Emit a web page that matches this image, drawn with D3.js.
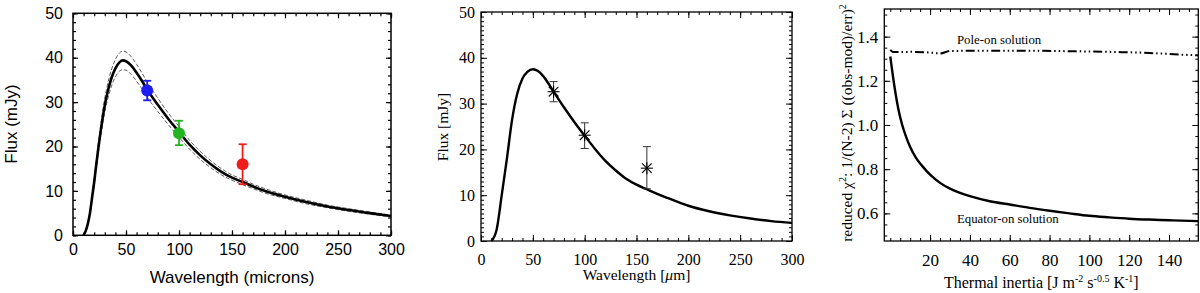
<!DOCTYPE html>
<html>
<head>
<meta charset="utf-8">
<script src="https://cdn.jsdelivr.net/npm/d3@7"></script>
<style>
  body { margin: 0; background: #fff; }
</style>
</head>
<body>
<script>
// ---- left panel: model SED, +/- band, measured fluxes ----
var wl1 = [10, 12, 14, 16, 18, 20, 22, 24, 26, 28, 30, 33, 36, 40, 44, 47, 50, 55, 60, 65, 70, 80, 90, 100, 110, 120, 130, 140, 150, 160, 170, 180, 200, 220, 240, 260, 280, 300];
var flux1 = [0, 1, 2.6, 5, 8.5, 12, 16, 19.8, 23.3, 26.5, 29.3, 32.6, 35.2, 37.6, 39, 39.4, 39.2, 38.2, 36.6, 34.8, 32.8, 29.4, 26.2, 23.3, 20.4, 18, 16, 14.3, 13, 12, 11, 10.1, 8.7, 7.5, 6.5, 5.7, 5, 4.35];
var flux1Hi = [0, 1.1, 2.8, 5.3, 9, 12.7, 16.9, 20.9, 24.6, 28, 30.9, 34.4, 37.1, 39.6, 41.1, 41.5, 41.3, 40.2, 38.5, 36.6, 34.5, 30.9, 27.5, 24.5, 21.4, 18.9, 16.8, 15, 13.6, 12.6, 11.5, 10.6, 9.1, 7.9, 6.8, 6, 5.25, 4.55];
var flux1Lo = [0, 0.9, 2.4, 4.7, 8, 11.4, 15.2, 18.8, 22.1, 25.1, 27.8, 30.9, 33.4, 35.7, 37, 37.3, 37.2, 36.2, 34.7, 33, 31.1, 27.9, 24.9, 22.1, 19.4, 17.1, 15.2, 13.6, 12.4, 11.4, 10.5, 9.6, 8.3, 7.1, 6.2, 5.4, 4.75, 4.15];

var obsWl = [70, 100, 160];
var obsFlux = [32.6, 23.0, 16.0];
var obsLo = [30.4, 20.3, 11.5];
var obsHi = [34.8, 25.8, 20.5];
var obsColor = ["#1e1ef0", "#22b422", "#ee1c1c"];

// ---- middle panel: fitted model + measurements ----
var wl2 = [10, 15, 20, 25, 30, 35, 40, 45, 50, 55, 60, 70, 80, 90, 100, 110, 120, 130, 140, 150, 160, 170, 180, 200, 220, 240, 260, 280, 300];
var flux2 = [0, 2.4, 10, 18, 26.5, 32.2, 35.5, 37, 37.5, 37.1, 36, 32.6, 29.2, 26, 23, 20.1, 17.5, 15.4, 13.6, 12.3, 11.3, 10.3, 9.4, 7.7, 6.5, 5.6, 4.9, 4.35, 3.95];
var obs2Flux = [32.6, 23.1, 15.9];
var obs2Lo = [30.4, 20.2, 11.4];
var obs2Hi = [34.8, 25.8, 20.6];

// ---- right panel: reduced chi2 vs thermal inertia ----
var inertiaEq = [0, 2, 4, 6, 8, 10, 13, 16, 20, 25, 30, 35, 40, 50, 60, 70, 80, 90, 100, 110, 120, 130, 140, 154.7];
var chiEq = [1.31, 1.18, 1.075, 1.0, 0.945, 0.9, 0.85, 0.815, 0.775, 0.738, 0.712, 0.693, 0.678, 0.655, 0.64, 0.625, 0.612, 0.6, 0.589, 0.582, 0.576, 0.572, 0.569, 0.565];
var inertiaPole = [0, 1, 2, 10, 20, 25, 30, 50, 70, 90, 110, 130, 145, 154.7];
var chiPole = [1.34, 1.332, 1.33, 1.331, 1.328, 1.324, 1.335, 1.336, 1.336, 1.334, 1.331, 1.326, 1.319, 1.315];

// tick labels
var ticks1X = [0, 50, 100, 150, 200, 250, 300];
var ticks1Y = [0, 10, 20, 30, 40, 50];
var ticks3X = [20, 40, 60, 80, 100, 120, 140];
var ticks3Y = [0.6, 0.8, 1.0, 1.2, 1.4];

var svg = d3.select("body").append("svg")
    .attr("width", 1200)
    .attr("height", 293);

// framed box with inward ticks on all four sides
function frame(x, y, o) {
  var x0 = x.range()[0], x1 = x.range()[1],
      y0 = y.range()[0], y1 = y.range()[1];
  var g = svg.append("g");

  function ax(axis, tx, ty, vals, len, fmt, pad) {
    var a = g.append("g")
      .attr("transform", "translate(" + tx + "," + ty + ")")
      .call(axis.tickValues(vals).tickSize(-len).tickPadding(pad || 3).tickFormat(fmt || ""));
    a.select(".domain").remove();
    a.selectAll("line").attr("stroke", "#000").attr("stroke-width", o.tickW);
    a.attr("font-family", o.font).attr("font-size", o.size);
    return a;
  }
  // minor
  ax(d3.axisBottom(x), 0, y0, o.xMinor, o.minor);
  ax(d3.axisTop(x), 0, y1, o.xMinor, o.minor);
  ax(d3.axisLeft(y), x0, 0, o.yMinor, o.minor);
  ax(d3.axisRight(y), x1, 0, o.yMinor, o.minor);
  // major
  ax(d3.axisBottom(x), 0, y0, o.xTicks, o.major, o.xFmt, o.xPad);
  ax(d3.axisTop(x), 0, y1, o.xTicks, o.major);
  ax(d3.axisLeft(y), x0, 0, o.yTicks, o.major, o.yFmt, o.yPad);
  ax(d3.axisRight(y), x1, 0, o.yTicks, o.major);

  g.append("rect")
    .attr("x", x0).attr("y", y1)
    .attr("width", x1 - x0).attr("height", y0 - y1)
    .attr("fill", "none").attr("stroke", "#000").attr("stroke-width", o.frameW);
  return g;
}

// ================= panel 1 =================
var x1 = d3.scaleLinear().domain([0, 300]).range([73, 391]);
var y1 = d3.scaleLinear().domain([0, 50]).range([235.3, 13.3]);

frame(x1, y1, {
  xTicks: ticks1X, yTicks: ticks1Y,
  xMinor: d3.range(0, 301, 10), yMinor: d3.range(0, 51, 2),
  xFmt: d3.format("d"), yFmt: d3.format("d"),
  major: 5, minor: 3, xPad: 8, yPad: 10,
  font: "'Liberation Sans', Arial, sans-serif", size: 16, tickW: 1.2, frameW: 1.5
});

var line1 = d3.line()
  .x(function(d) { return x1(d[0]); })
  .y(function(d) { return y1(d[1]); })
  .curve(d3.curveMonotoneX);

[flux1Hi, flux1Lo].forEach(function(f) {
  svg.append("path")
    .attr("d", line1(wl1.map(function(w, i) { return [w, f[i]]; })))
    .attr("fill", "none").attr("stroke", "#333").attr("stroke-width", 0.8)
    .attr("stroke-dasharray", "4,2");
});
svg.append("path")
  .attr("d", line1(wl1.map(function(w, i) { return [w, flux1[i]]; })))
  .attr("fill", "none").attr("stroke", "#000").attr("stroke-width", 2.6);

obsWl.forEach(function(w, i) {
  var c = obsColor[i], cx = x1(w);
  svg.append("line").attr("x1", cx).attr("x2", cx)
    .attr("y1", y1(obsLo[i])).attr("y2", y1(obsHi[i]))
    .attr("stroke", c).attr("stroke-width", 1.8);
  [obsLo[i], obsHi[i]].forEach(function(v) {
    svg.append("line").attr("x1", cx - 4).attr("x2", cx + 4)
      .attr("y1", y1(v)).attr("y2", y1(v))
      .attr("stroke", c).attr("stroke-width", 1.8);
  });
  svg.append("circle").attr("cx", cx).attr("cy", y1(obsFlux[i]))
    .attr("r", 6).attr("fill", c);
});

svg.append("text")
  .attr("x", (73 + 391) / 2).attr("y", 283)
  .attr("text-anchor", "middle")
  .attr("font-family", "'Liberation Sans', Arial, sans-serif").attr("font-size", 17)
  .text("Wavelength (microns)");
svg.append("text")
  .attr("transform", "translate(17,124) rotate(-90)")
  .attr("text-anchor", "middle")
  .attr("font-family", "'Liberation Sans', Arial, sans-serif").attr("font-size", 17)
  .text("Flux (mJy)");

// ================= panel 2 =================
var x2 = d3.scaleLinear().domain([0, 300]).range([481, 792]);
var y2 = d3.scaleLinear().domain([0, 50]).range([241, 12]);

frame(x2, y2, {
  xTicks: ticks1X, yTicks: ticks1Y,
  xMinor: d3.range(0, 301, 10), yMinor: d3.range(0, 51, 1),
  xFmt: d3.format("d"), yFmt: d3.format("d"),
  major: 6, minor: 3, xPad: 13, yPad: 6,
  font: "'Liberation Serif', 'Times New Roman', serif", size: 16, tickW: 1, frameW: 1.3
});

svg.append("path")
  .attr("d", d3.line()
    .x(function(d) { return x2(d[0]); })
    .y(function(d) { return y2(d[1]); })
    .curve(d3.curveMonotoneX)(wl2.map(function(w, i) { return [w, flux2[i]]; })))
  .attr("fill", "none").attr("stroke", "#000").attr("stroke-width", 2.4)
  .attr("stroke-linejoin", "round");

obsWl.forEach(function(w, i) {
  var cx = x2(w), cy = y2(obs2Flux[i]), s = 6;
  svg.append("line").attr("x1", cx).attr("x2", cx)
    .attr("y1", y2(obs2Lo[i])).attr("y2", y2(obs2Hi[i]))
    .attr("stroke", "#333").attr("stroke-width", 1);
  [obs2Lo[i], obs2Hi[i]].forEach(function(v) {
    svg.append("line").attr("x1", cx - 4).attr("x2", cx + 4)
      .attr("y1", y2(v)).attr("y2", y2(v))
      .attr("stroke", "#333").attr("stroke-width", 1);
  });
  // asterisk symbol
  [[s, 0], [0, s], [s * 0.8, s * 0.8], [s * 0.8, -s * 0.8]].forEach(function(d) {
    svg.append("line")
      .attr("x1", cx - d[0]).attr("y1", cy - d[1])
      .attr("x2", cx + d[0]).attr("y2", cy + d[1])
      .attr("stroke", "#000").attr("stroke-width", 1.1);
  });
});

var t2 = svg.append("text")
  .attr("x", (481 + 792) / 2).attr("y", 280)
  .attr("text-anchor", "middle")
  .attr("font-family", "'Liberation Serif', 'Times New Roman', serif").attr("font-size", 15.5);
t2.append("tspan").text("Wavelength [");
t2.append("tspan").attr("font-style", "italic").text("\u03bc");
t2.append("tspan").text("m]");
svg.append("text")
  .attr("transform", "translate(448,127) rotate(-90)")
  .attr("text-anchor", "middle")
  .attr("font-family", "'Liberation Serif', 'Times New Roman', serif").attr("font-size", 15.5)
  .text("Flux [mJy]");

// ================= panel 3 =================
var x3 = d3.scaleLinear().domain([-3, 154.7]).range([884.3, 1198.3]);
var y3 = d3.scaleLinear().domain([0.475, 1.525]).range([241, 9]);

frame(x3, y3, {
  xTicks: ticks3X, yTicks: ticks3Y,
  xMinor: d3.range(0, 155, 5), yMinor: d3.range(0.5, 1.51, 0.05),
  xFmt: d3.format("d"), yFmt: d3.format(".1f"),
  major: 6, minor: 3, xPad: 13, yPad: 6,
  font: "'Liberation Serif', 'Times New Roman', serif", size: 17, tickW: 1, frameW: 1.3
});

var line3 = d3.line()
  .x(function(d) { return x3(d[0]); })
  .y(function(d) { return y3(d[1]); })
  .curve(d3.curveMonotoneX);

svg.append("path")
  .attr("d", line3(inertiaEq.map(function(v, i) { return [v, chiEq[i]]; })))
  .attr("fill", "none").attr("stroke", "#000").attr("stroke-width", 2.4);
svg.append("path")
  .attr("d", line3(inertiaPole.map(function(v, i) { return [v, chiPole[i]]; })))
  .attr("fill", "none").attr("stroke", "#000").attr("stroke-width", 2)
  .attr("stroke-dasharray", "9,3,1.5,3,1.5,3,1.5,3");

var serif = "'Liberation Serif', 'Times New Roman', serif";
svg.append("text")
  .attr("x", x3(33.5)).attr("y", y3(1.366))
  .attr("font-family", serif).attr("font-size", 12.8)
  .text("Pole-on solution");
svg.append("text")
  .attr("x", x3(33.5)).attr("y", y3(0.556))
  .attr("font-family", serif).attr("font-size", 12.8)
  .text("Equator-on solution");

var t3 = svg.append("text")
  .attr("x", (884.3 + 1198.3) / 2).attr("y", 288)
  .attr("text-anchor", "middle")
  .attr("font-family", serif).attr("font-size", 16);
t3.append("tspan").text("Thermal inertia [J m");
t3.append("tspan").attr("dy", -6).attr("font-size", 10).text("-2");
t3.append("tspan").attr("dy", 6).text(" s");
t3.append("tspan").attr("dy", -6).attr("font-size", 10).text("-0.5");
t3.append("tspan").attr("dy", 6).text(" K");
t3.append("tspan").attr("dy", -6).attr("font-size", 10).text("-1");
t3.append("tspan").attr("dy", 6).text("]");

var ty = svg.append("text")
  .attr("transform", "translate(852,123) rotate(-90)")
  .attr("text-anchor", "middle")
  .attr("font-family", serif).attr("font-size", 15.5);
ty.append("tspan").text("reduced \u03c7");
ty.append("tspan").attr("dy", -6).attr("font-size", 10).text("2");
ty.append("tspan").attr("dy", 6).text(": 1/(N-2) \u03a3 ((obs-mod)/err)");
ty.append("tspan").attr("dy", -6).attr("font-size", 10).text("2");
</script>
</body>
</html>
